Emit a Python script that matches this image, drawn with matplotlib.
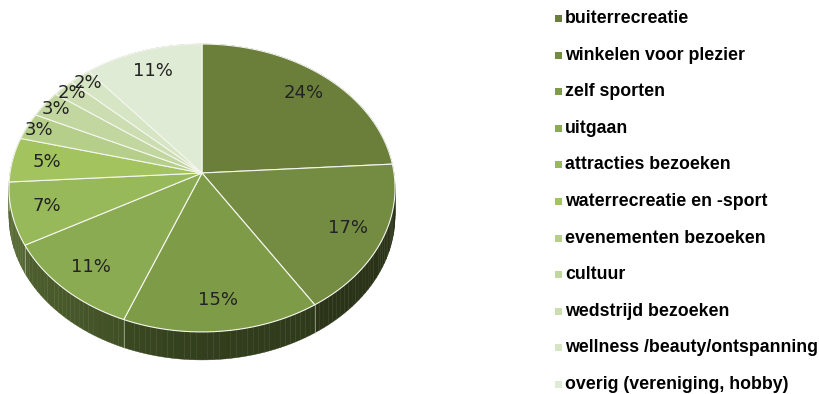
import numpy as np
import matplotlib
matplotlib.use("Agg")
import matplotlib.pyplot as plt
from matplotlib.patches import Polygon, Rectangle

# data
labels = ["buiterrecreatie", "winkelen voor plezier", "zelf sporten", "uitgaan",
          "attracties bezoeken", "waterrecreatie en -sport", "evenementen bezoeken",
          "cultuur", "wedstrijd bezoeken", "wellness /beauty/ontspanning",
          "overig (vereniging, hobby)"]
values = [24, 17, 15, 11, 7, 5, 3, 3, 2, 2, 11]
colors = ["#6b7f3b", "#748c41", "#7e9c48", "#8aab51", "#97b95a", "#a3c35f",
          "#b5cf8a", "#c2d7a0", "#ccdeb1", "#d6e5c3", "#e0ebd5"]

W, H = 819, 394
fig = plt.figure(figsize=(W / 100, H / 100), dpi=100)
ax = fig.add_axes([0, 0, 1, 1])
ax.set_xlim(0, W)
ax.set_ylim(H, 0)
ax.axis("off")

# pie geometry (pixels), slight perspective like the Excel 3D pie
cx, cy = 202, 173
rx, ry = 192, 142.4
persp = 0.104
thick = 28


def proj(theta, r=1.0):
    x = r * np.sin(theta)
    z = r * np.cos(theta)
    g = 1.0 / (1.0 + persp * z)
    return cx + rx * x * g, cy - ry * z * g


def rgb(c, f):
    c = np.array(matplotlib.colors.to_rgb(c))
    return tuple(np.clip(c * f, 0, 1))


fr = np.array(values, dtype=float) / sum(values)
edges = np.concatenate([[0], np.cumsum(fr)]) * 2 * np.pi

# side wall, drawn in small strips with shading
for i, col in enumerate(colors):
    t = np.linspace(edges[i], edges[i + 1], max(4, int(fr[i] * 240)))
    for a, b in zip(t[:-1], t[1:]):
        x1, y1 = proj(a)
        x2, y2 = proj(b)
        m = 0.5 * (a + b)
        f = 0.40 + 0.18 * max(0, -np.sin(m)) - 0.05 * max(0, np.sin(m))
        ax.add_patch(Polygon([(x1, y1), (x2, y2), (x2, y2 + thick), (x1, y1 + thick)],
                             closed=True, facecolor=rgb(col, f), edgecolor=rgb(col, f),
                             linewidth=0.3, zorder=1))
    xe, ye = proj(edges[i])
    if np.cos(edges[i]) < 0:
        ax.plot([xe, xe], [ye, ye + thick], color="#c8cfb8", lw=0.6, alpha=0.7, zorder=1.5)

# top faces
for i, col in enumerate(colors):
    t = np.linspace(edges[i], edges[i + 1], max(4, int(fr[i] * 300)))
    pts = [(cx, cy)] + [proj(a) for a in t]
    ax.add_patch(Polygon(pts, closed=True, facecolor=col, edgecolor="#f4f6ee",
                         linewidth=0.8, zorder=2))

# percentage labels (small slices sit nearer the rim)
for i, v in enumerate(values):
    m = 0.5 * (edges[i] + edges[i + 1])
    lx, ly = proj(m, 0.93 if v <= 3 else 0.82)
    ax.text(lx, ly, f"{v}%", ha="center", va="center", fontsize=13,
            color="#222222", family="DejaVu Sans", zorder=3)

# legend
top, step = 18.5, 36.6
for i, (lab, col) in enumerate(zip(labels, colors)):
    y = top + i * step
    ax.add_patch(Rectangle((555, y - 3.5), 7, 7, facecolor=col, edgecolor="none"))
    ax.text(565, y, lab, ha="left", va="center", fontsize=12.8, fontweight="bold",
            family="Liberation Sans", color="#000000")

fig.savefig("out.png", dpi=100)
